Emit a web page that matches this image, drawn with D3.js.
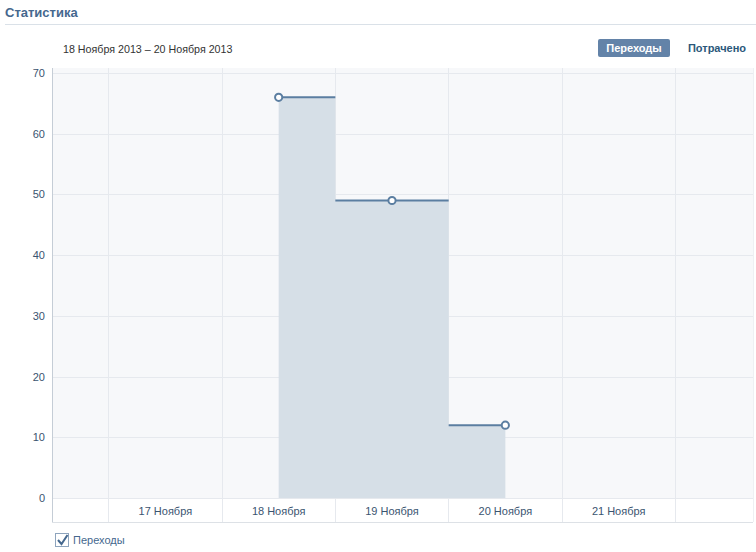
<!DOCTYPE html>
<html><head><meta charset="utf-8">
<script src="https://cdn.jsdelivr.net/npm/d3@7/dist/d3.min.js"></script>
<style>
html,body{margin:0;padding:0;background:#fff;}
svg{display:block;font-family:Tahoma,"Liberation Sans",Arial,sans-serif;}
</style></head>
<body><svg id="c" width="756" height="552"></svg>
<script>
const title = "Статистика";
const dateRange = "18 Ноября 2013 – 20 Ноября 2013";
const buttons = ["Переходы", "Потрачено"];
const legendLabel = "Переходы";
const categoryDays = [17, 18, 19, 20, 21];
const categoryLabels = ["17 Ноября", "18 Ноября", "19 Ноября", "20 Ноября", "21 Ноября"];
const pointDays = [18, 19, 20];
const pointValues = [66, 49, 12];
const yTicks = [0, 10, 20, 30, 40, 50, 60, 70];

const svg = d3.select("#c");
const L = 52, R = 753, T = 68, B = 498, AB = 522;

const x = d3.scaleLinear().domain([16, 22]).range([52, 732]);
const y = d3.scaleLinear().domain([0, 70]).range([B, 73]);

// title
svg.append("text").attr("x", 5).attr("y", 17).attr("font-size", 13).attr("font-weight", "bold")
  .attr("fill", "#45688e").text(title);
svg.append("line").attr("x1", 5).attr("x2", 756).attr("y1", 24.5).attr("y2", 24.5).attr("stroke", "#dae1e8");

svg.append("text").attr("x", 63).attr("y", 53).attr("font-size", 10.7).attr("fill", "#333").text(dateRange);

// buttons
svg.append("rect").attr("x", 598).attr("y", 39).attr("width", 72).attr("height", 18).attr("rx", 2).attr("fill", "#6383a8");
svg.append("text").attr("x", 634).attr("y", 52).attr("text-anchor", "middle").attr("font-size", 11).attr("font-weight", "bold")
  .attr("fill", "#fff").text(buttons[0]);
svg.append("text").attr("x", 717).attr("y", 52).attr("text-anchor", "middle").attr("font-size", 11).attr("font-weight", "bold")
  .attr("fill", "#2b587a").text(buttons[1]);

// plot background
svg.append("rect").attr("x", L).attr("y", T).attr("width", R - L).attr("height", B - T).attr("fill", "#f7f8fa");
svg.append("rect").attr("x", L).attr("y", B).attr("width", R - L).attr("height", AB - B).attr("fill", "#fff");

// horizontal grid
svg.append("g").selectAll("line").data(yTicks).join("line")
  .attr("x1", L).attr("x2", R).attr("y1", d => Math.round(y(d)) + 0.5).attr("y2", d => Math.round(y(d)) + 0.5)
  .attr("stroke", "#e6e9ee");

// vertical grid at category boundaries
const bounds = categoryDays.map(d => d - 0.5).concat([categoryDays[categoryDays.length - 1] + 0.5]);
svg.append("g").selectAll("line").data(bounds).join("line")
  .attr("x1", d => Math.floor(x(d)) + 0.5).attr("x2", d => Math.floor(x(d)) + 0.5).attr("y1", T).attr("y2", AB)
  .attr("stroke", "#e6e9ee");

// right border
svg.append("line").attr("x1", R + 0.5).attr("x2", R + 0.5).attr("y1", T).attr("y2", AB).attr("stroke", "#eef0f3");

// area (step)
const pts = pointDays.map((d, i) => [d, pointValues[i]]);
svg.append("path").datum(pts)
  .attr("d", d3.area().curve(d3.curveStep).x(d => x(d[0])).y0(y(0)).y1(d => y(d[1])))
  .attr("fill", "#d6dfe7");

// horizontal step segments only (no vertical risers)
const segs = pts.map((p, i) => {
  const x0 = i === 0 ? p[0] : (p[0] + pts[i - 1][0]) / 2;
  const x1 = i === pts.length - 1 ? p[0] : (p[0] + pts[i + 1][0]) / 2;
  return { x0, x1, v: p[1] };
});
svg.append("g").selectAll("line").data(segs).join("line")
  .attr("x1", d => x(d.x0)).attr("x2", d => x(d.x1))
  .attr("y1", d => y(d.v)).attr("y2", d => y(d.v))
  .attr("stroke", "#5b7ea1").attr("stroke-width", 2);

svg.append("g").selectAll("circle").data(pts).join("circle")
  .attr("cx", d => x(d[0])).attr("cy", d => y(d[1])).attr("r", 3.6)
  .attr("fill", "#fff").attr("stroke", "#5b7ea1").attr("stroke-width", 2);

// axes lines
svg.append("line").attr("x1", L + 0.5).attr("x2", L + 0.5).attr("y1", T).attr("y2", AB + 0.5).attr("stroke", "#c5cdd6");
svg.append("line").attr("x1", L).attr("x2", R).attr("y1", AB + 0.5).attr("y2", AB + 0.5).attr("stroke", "#dde1e6");

// y labels
svg.append("g").selectAll("text").data(yTicks).join("text")
  .attr("x", 45).attr("y", d => y(d) + 4).attr("text-anchor", "end").attr("font-size", 11).attr("fill", "#3a5470")
  .text(d => d);

// x labels
svg.append("g").selectAll("text").data(categoryDays).join("text")
  .attr("x", d => x(d)).attr("y", 515).attr("text-anchor", "middle").attr("font-size", 11).attr("fill", "#3a5470")
  .text((d, i) => categoryLabels[i]);

// legend
svg.append("rect").attr("x", 55.5).attr("y", 533.5).attr("width", 13).attr("height", 13).attr("fill", "#fff").attr("stroke", "#8ea4bd");
svg.append("path").attr("d", "M58,540 L61.5,544 L67.5,535").attr("fill", "none").attr("stroke", "#45688e").attr("stroke-width", 2);
svg.append("text").attr("x", 73).attr("y", 544).attr("font-size", 11).attr("fill", "#45688e").text(legendLabel);
</script></body></html>
